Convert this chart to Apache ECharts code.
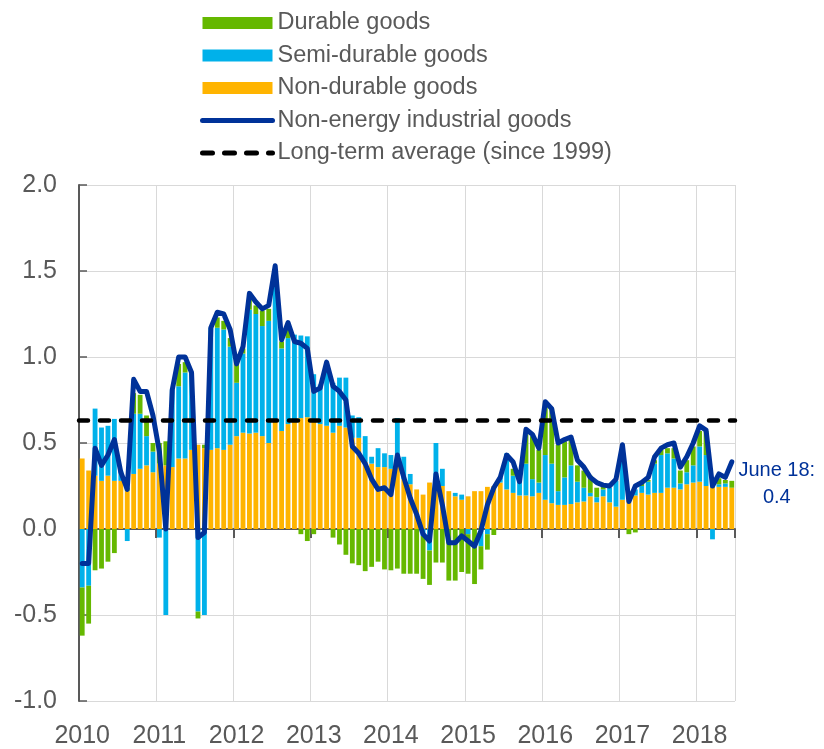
<!DOCTYPE html>
<html>
<head>
<meta charset="utf-8">
<script src="https://cdn.jsdelivr.net/npm/echarts@6/dist/echarts.min.js"></script>
<style>
  html, body { margin: 0; padding: 0; background: #fff; }
  #chart { width: 824px; height: 749px; }
</style>
</head>
<body>
<div id="chart"></div>
<script>
// --- categorias: meses de ene-2010 a jun-2018 ---
const months = [];
for (let y = 2010; y <= 2018; y++) {
    for (let m = 1; m <= 12; m++) {
        if (y === 2018 && m > 6) break;
        months.push(y + "-" + (m < 10 ? "0" + m : m));
    }
}

// --- contribuciones (puntos porcentuales) ---
const durable = [
    -0.28, -0.22, -0.24, -0.23, -0.19, -0.14, 0.0, 0.02, 0.12, 0.11, 0.12, 0.05,
    0.12, 0.14, 0.0, 0.13, 0.06, 0.0, -0.04, 0.02, 0.0, 0.06, 0.05, 0.05,
    0.11, 0.03, 0.08, 0.05, 0.09, 0.07, 0.03, 0.04, 0.05, 0.0, -0.03, -0.07,
    -0.03, 0.0, 0.0, -0.05, -0.09, -0.15, -0.20, -0.21, -0.245, -0.22, -0.19, -0.235,
    -0.24, -0.23, -0.26, -0.26, -0.26, -0.25, -0.20, -0.195, -0.195, -0.30, -0.30, -0.25,
    -0.23, -0.32, -0.135, -0.09, -0.035, 0.0, 0.0, 0.04, 0.0, 0.17, 0.25, 0.19,
    0.30, 0.32, 0.27, 0.21, 0.15, 0.095, 0.10, 0.10, 0.055, 0.015, 0.0, 0.0,
    0.02, -0.03, -0.02, 0.02, 0.01, 0.02, 0.03, 0.03, 0.06, 0.075, 0.07, 0.11,
    0.09, 0.14, 0.05, 0.035, 0.02, 0.04
];

const semiDurable = [
    -0.34, -0.33, 0.39, 0.31, 0.29, 0.36, 0.06, -0.07, 0.35, 0.32, 0.17, 0.12,
    -0.05, -0.50, 0.45, 0.42, 0.50, 0.45, -0.48, -0.50, 0.71, 0.70, 0.70, 0.57,
    0.31, 0.46, 0.72, 0.69, 0.64, 0.71, 0.84, 0.48, 0.50, 0.50, 0.48, 0.47,
    0.26, 0.23, 0.37, 0.29, 0.28, 0.29, 0.13, 0.12, 0.15, 0.04, 0.11, 0.08,
    0.08, 0.275, 0.13, 0.06, 0.0, -0.04, -0.125, 0.25, 0.10, 0.0, 0.02, 0.03,
    -0.03, 0.0, -0.10, -0.03, 0.0, 0.03, 0.21, 0.10, 0.10, 0.185, 0.10, 0.06,
    0.26, 0.23, 0.08, 0.16, 0.225, 0.12, 0.08, 0.02, 0.03, 0.04, 0.085, 0.15,
    0.30, 0.0, 0.035, 0.04, 0.075, 0.17, 0.22, 0.20, 0.17, 0.035, 0.07, 0.10,
    0.205, 0.18, -0.06, 0.015, 0.02, 0.0
];

const nonDurable = [
    0.41, 0.34, 0.31, 0.28, 0.31, 0.28, 0.28, 0.22, 0.32, 0.35, 0.37, 0.33,
    0.38, 0.37, 0.36, 0.41, 0.41, 0.46, 0.49, 0.47, 0.46, 0.47, 0.46, 0.49,
    0.54, 0.56, 0.555, 0.56, 0.54, 0.50, 0.63, 0.57, 0.61, 0.63, 0.645, 0.65,
    0.64, 0.61, 0.60, 0.56, 0.60, 0.59, 0.53, 0.53, 0.39, 0.38, 0.36, 0.36,
    0.35, 0.37, 0.29, 0.26, 0.23, 0.20, 0.27, 0.25, 0.25, 0.22, 0.19, 0.17,
    0.19, 0.22, 0.22, 0.245, 0.25, 0.27, 0.23, 0.21, 0.195, 0.195, 0.19, 0.21,
    0.17, 0.15, 0.14, 0.14, 0.145, 0.155, 0.16, 0.19, 0.155, 0.19, 0.155, 0.13,
    0.17, 0.20, 0.195, 0.21, 0.20, 0.21, 0.21, 0.24, 0.24, 0.23, 0.26, 0.27,
    0.275, 0.25, 0.24, 0.245, 0.245, 0.24
];

// --- total: bienes industriales no energeticos ---
const nonEnergy = [
    -0.20, -0.20, 0.47, 0.37, 0.43, 0.52, 0.33, 0.23, 0.87, 0.80, 0.80, 0.66,
    0.45, 0.0, 0.81, 1.0, 1.0, 0.91, -0.05, -0.02, 1.17, 1.26, 1.25, 1.16,
    0.96, 1.06, 1.37, 1.32, 1.28, 1.30, 1.53, 1.10, 1.20, 1.09, 1.08, 1.05,
    0.80, 0.82, 0.97, 0.83, 0.80, 0.75, 0.48, 0.44, 0.38, 0.29, 0.23, 0.24,
    0.20, 0.43, 0.30, 0.18, 0.085, -0.03, -0.07, 0.32, 0.14, -0.08, -0.08, -0.04,
    -0.07, -0.10, -0.01, 0.14, 0.24, 0.30, 0.43, 0.39, 0.275, 0.58, 0.55, 0.47,
    0.74, 0.70, 0.50, 0.52, 0.535, 0.40, 0.36, 0.30, 0.27, 0.255, 0.25, 0.29,
    0.49, 0.16, 0.25, 0.27, 0.30, 0.42, 0.47, 0.49, 0.50, 0.36, 0.42, 0.50,
    0.60, 0.575, 0.25, 0.32, 0.30, 0.39
];

// promedio de largo plazo (desde 1999)
const longTermAvg = 0.63;

const yTicks = { min: -1.0, max: 2.0, interval: 0.5 };

const FONT = "Liberation Sans, Arial, sans-serif";
const GRAY = "#595959";

var myChart = echarts.init(document.getElementById("chart"));

myChart.setOption({
    animation: false,
    textStyle: { fontFamily: FONT },
    grid: { left: 79, right: 89, top: 185, bottom: 44 },
    legend: {
        orient: "vertical",
        left: 195,
        top: 6,
        itemWidth: 70,
        itemHeight: 12,
        itemGap: 8.5,
        textStyle: { fontSize: 23.5, color: GRAY, fontFamily: FONT },
        data: [
            { name: "Durable goods", icon: "rect" },
            { name: "Semi-durable goods", icon: "rect" },
            { name: "Non-durable goods", icon: "rect" },
            {
                name: "Non-energy industrial goods",
                itemStyle: { opacity: 0 },
                lineStyle: { width: 5, color: "#003299", cap: "round" }
            },
            {
                name: "Long-term average (since 1999)",
                itemStyle: { opacity: 0 },
                lineStyle: { width: 5, color: "#000", type: [10, 12], cap: "round" }
            }
        ]
    },
    xAxis: [
        {
            type: "category",
            data: months,
            axisLine: { onZero: true, lineStyle: { color: GRAY, width: 2 } },
            axisTick: { show: true, interval: 11, length: 9, lineStyle: { color: GRAY, width: 2 } },
            axisLabel: { show: false },
            splitLine: { show: true, interval: 11, lineStyle: { color: "#d9d9d9", width: 1 } }
        },
        {
            type: "category",
            data: months,
            position: "bottom",
            axisLine: { show: false, onZero: false },
            axisTick: { show: false },
            splitLine: { show: false },
            axisLabel: {
                interval: 11,
                margin: 23,
                fontSize: 25,
                color: GRAY,
                formatter: (v) => v.slice(0, 4)
            }
        }
    ],
    yAxis: {
        type: "value",
        min: yTicks.min,
        max: yTicks.max,
        interval: yTicks.interval,
        axisLine: { show: true, lineStyle: { color: GRAY, width: 2 } },
        axisTick: { show: true, inside: true, length: 8, lineStyle: { color: GRAY, width: 1.5 } },
        axisLabel: {
            fontSize: 25,
            color: GRAY,
            margin: 22,
            formatter: (v) => v.toFixed(1)
        },
        splitLine: { show: true, lineStyle: { color: "#d9d9d9", width: 1 } }
    },
    series: [
        {
            name: "Non-durable goods",
            type: "bar",
            stack: "contrib",
            barCategoryGap: "25%",
            itemStyle: { color: "#FFB400" },
            data: nonDurable
        },
        {
            name: "Semi-durable goods",
            type: "bar",
            stack: "contrib",
            barCategoryGap: "25%",
            itemStyle: { color: "#00B1EA" },
            data: semiDurable
        },
        {
            name: "Durable goods",
            type: "bar",
            stack: "contrib",
            barCategoryGap: "25%",
            itemStyle: { color: "#65B800" },
            data: durable
        },
        {
            name: "Long-term average (since 1999)",
            type: "line",
            symbol: "none",
            z: 3,
            lineStyle: { color: "#000", width: 4.5, type: [9, 12], cap: "round" },
            itemStyle: { color: "#000" },
            data: [],
            markLine: {
                silent: true,
                symbol: ["none", "none"],
                label: { show: false },
                lineStyle: { color: "#000", width: 4.5, type: [9, 12], cap: "round" },
                data: [{ yAxis: longTermAvg }]
            }
        },
        {
            name: "Non-energy industrial goods",
            type: "line",
            symbol: "none",
            z: 4,
            lineStyle: { color: "#003299", width: 5, join: "round", cap: "round" },
            itemStyle: { color: "#003299" },
            data: nonEnergy,
            endLabel: {
                show: true,
                color: "#003299",
                fontSize: 20,
                fontFamily: FONT,
                align: "center",
                lineHeight: 27,
                offset: [37, 22],
                formatter: (p) => "June 18:\n" + p.value.toFixed(1)
            }
        }
    ]
});
</script>
</body>
</html>
